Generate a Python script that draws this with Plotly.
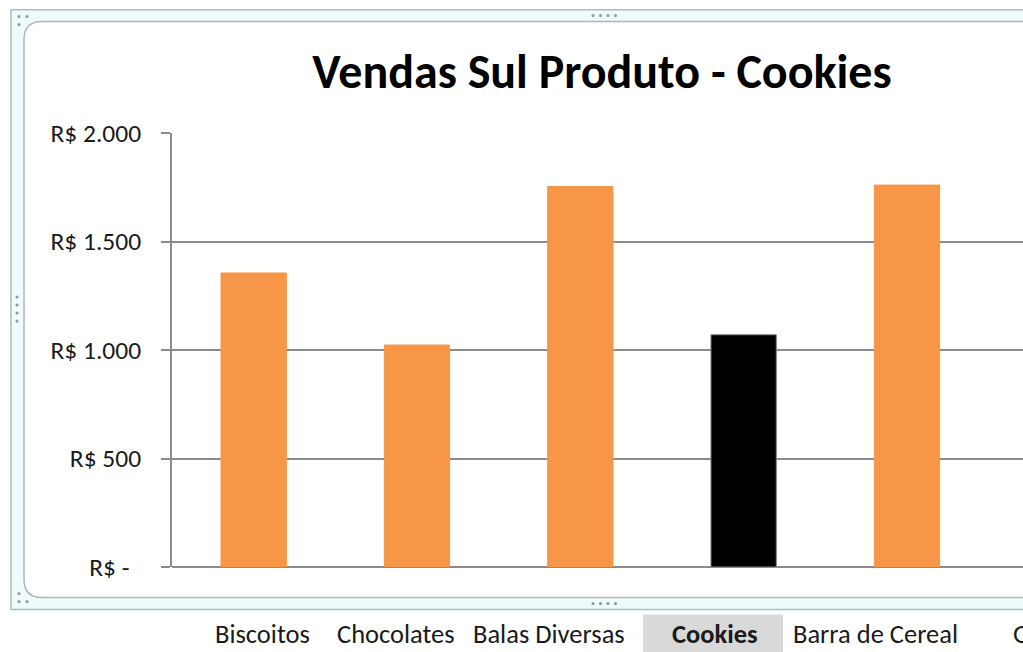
import plotly.graph_objects as go

# ---- data ----
categories = ["Biscoitos", "Chocolates", "Balas Diversas", "Cookies", "Barra de Cereal"]
sales = [1355, 1023, 1753, 1070, 1760]
highlight = "Cookies"
y_tickvals = [0, 500, 1000, 1500, 2000]
y_ticktext = ["R$ -\u00a0\u00a0", "R$ 500", "R$ 1.000", "R$ 1.500", "R$ 2.000"]
filter_labels = ["Biscoitos", "Chocolates", "Balas Diversas", "Cookies", "Barra de Cereal", "Gomas"]
title_text = "Vendas Sul Produto - Cookies"

# ---- layout geometry (pixels) ----
W, H = 1023, 652
PL, PR = 172, 1023       # plot area left / right in px
PT, PB = 132.6, 567.4    # plot area top / bottom in px
FONT = "Carlito, Calibri, Lato, sans-serif"

def fx(px):
    return (px - PL) / (PR - PL)

def fy(py):
    return (PB - py) / (PB - PT)

ORANGE = "#F79646"
colors = ["#000000" if c == highlight else ORANGE for c in categories]
lines = ["#7f7f7f" if c == highlight else ORANGE for c in categories]

fig = go.Figure()
fig.add_trace(go.Bar(
    x=categories, y=sales, width=0.4,
    marker=dict(color=colors, line=dict(color=lines, width=1)),
    hoverinfo="x+y",
))

shapes = []
# outer selection frame
shapes.append(dict(type="rect", xref="paper", yref="paper", layer="below",
                   x0=fx(11), x1=fx(1040), y0=fy(610), y1=fy(9),
                   fillcolor="#eefbfd", line=dict(color="#a9bfc3", width=1.5)))
# inner rounded chart area
r = 18
x0, x1, y0, y1 = 24, 1040, 21, 598
path = (f"M {fx(x0)},{fy(y0 + r)} Q {fx(x0)},{fy(y0)} {fx(x0 + r)},{fy(y0)} "
        f"L {fx(x1)},{fy(y0)} L {fx(x1)},{fy(y1)} L {fx(x0 + r)},{fy(y1)} "
        f"Q {fx(x0)},{fy(y1)} {fx(x0)},{fy(y1 - r)} Z")
shapes.append(dict(type="path", xref="paper", yref="paper", layer="below", path=path,
                   fillcolor="#ffffff", line=dict(color="#b4b4b4", width=1.5)))
# resize handles (dots)
dots = [(19, 16), (27, 16), (19, 24), (19, 594), (19, 602), (27, 602)]
dots += [(17, 297 + 8 * i) for i in range(4)]
dots += [(593 + 7.5 * i, 15) for i in range(4)]
dots += [(593 + 7.5 * i, 604) for i in range(4)]
for (dx, dy) in dots:
    shapes.append(dict(type="circle", xref="paper", yref="paper", layer="above",
                       x0=fx(dx - 1.6), x1=fx(dx + 1.6), y0=fy(dy + 1.6), y1=fy(dy - 1.6),
                       fillcolor="#9a9a9a", line=dict(width=0)))
# highlighted filter cell
shapes.append(dict(type="rect", xref="paper", yref="paper", layer="below",
                   x0=fx(643), x1=fx(783), y0=fy(660), y1=fy(615),
                   fillcolor="#d9d9d9", line=dict(width=0)))

# filter labels row
label_left = [214, 336, 472, 671, 792, 1012]
annotations = []
for lab, lx in zip(filter_labels, label_left):
    bold = lab == highlight
    annotations.append(dict(
        xref="paper", yref="paper", x=fx(lx), y=fy(651.5), xanchor="left", yanchor="bottom",
        text=f"<b>{lab}</b>" if bold else lab, showarrow=False, borderpad=0,
        font=dict(family=FONT, size=26.5, color="#1a1a1a")))

fig.update_layout(
    width=W, height=H,
    margin=dict(l=PL, r=W - PR, t=PT, b=H - PB, pad=0),
    paper_bgcolor="#ffffff", plot_bgcolor="rgba(0,0,0,0)",
    showlegend=False,
    title=dict(text=f"<b>{title_text}</b>", xref="paper", x=fx(602), xanchor="center",
               yref="container", y=1 - 71 / H, yanchor="middle",
               font=dict(family=FONT, size=48, color="#000000")),
    xaxis=dict(range=[-0.5, 4.5 + (PR - 988.6) / 163.4], showticklabels=False,
               showgrid=False, zeroline=False, showline=False, ticks="",
               fixedrange=True),
    yaxis=dict(range=[0, 2000], tickvals=y_tickvals, ticktext=y_ticktext,
               showgrid=True, gridcolor="#8c8c8c", gridwidth=1.5,
               showline=True, linecolor="#8c8c8c", linewidth=1.5,
               ticks="outside", ticklen=9, tickcolor="#8c8c8c", tickwidth=1.5,
               zeroline=True, zerolinecolor="#8c8c8c", zerolinewidth=1.5,
               ticklabelstandoff=15,
               tickfont=dict(family=FONT, size=25.5, color="#1a1a1a"), fixedrange=True),
    shapes=shapes, annotations=annotations,
    bargap=0.6,
)

fig.write_html("out.html", config={"displayModeBar": False},
               post_script="document.body.style.margin='0';document.body.style.overflow='hidden';")
